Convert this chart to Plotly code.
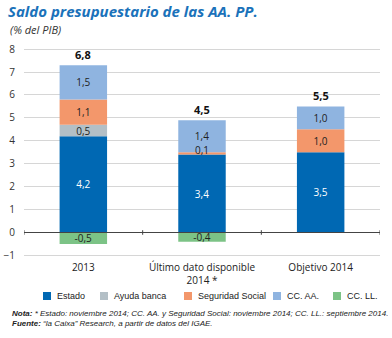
import plotly.graph_objects as go

categories = ["2013", "Último dato disponible<br>2014 *", "Objetivo 2014"]
estado = [4.2, 3.4, 3.5]
ayuda_banca = [0.5, None, None]
seguridad_social = [1.1, 0.1, 1.0]
cc_aa = [1.5, 1.4, 1.0]
cc_ll = [-0.5, -0.4, None]
totals = [6.8, 4.5, 5.5]

series = [
    ("Estado", estado, "#0068b3", "white"),
    ("Ayuda banca", ayuda_banca, "#b3bfc6", "#222222"),
    ("Seguridad Social", seguridad_social, "#f3976b", "#222222"),
    ("CC. AA.", cc_aa, "#8fb4e0", "#222222"),
    ("CC. LL.", cc_ll, "#7cc386", "#222222"),
]

def fmt(v):
    return f"{v:.1f}".replace(".", ",")

fig = go.Figure()
small_labels = []
for name, vals, color, tcolor in series:
    texts = []
    for i, v in enumerate(vals):
        if v is None:
            texts.append("")
        elif abs(v) < 0.3:
            texts.append("")
            small_labels.append((i, v, tcolor))
        else:
            texts.append(fmt(v))
    fig.add_trace(go.Bar(
        x=list(range(len(categories))), y=vals, name=name,
        marker=dict(color=color, line=dict(width=0)),
        width=0.4,
        text=texts, textposition="inside",
        insidetextanchor="middle",
        textfont=dict(color=tcolor, size=10, family="Open Sans"),
        showlegend=False,
    ))

# cumulative positive stacking to place labels / totals
pos_tops = []
for i in range(len(categories)):
    s = 0
    for _, vals, _, _ in series:
        v = vals[i]
        if v is not None and v > 0:
            s += v
    pos_tops.append(s)

# labels of tiny segments (drawn on top)
for i, v, tcolor in small_labels:
    base = 0
    for _, vals, _, _ in series:
        if vals[i] is not None and vals[i] == v:
            break
        if vals[i] is not None and vals[i] > 0:
            base += vals[i]
    fig.add_annotation(x=i, y=base + v / 2, text=fmt(v), showarrow=False,
                       yshift=3, font=dict(size=10, color=tcolor, family="Open Sans"))

for i in range(len(categories)):
    fig.add_annotation(x=i, y=pos_tops[i], text="<b>" + fmt(totals[i]) + "</b>",
                       showarrow=False, yanchor="bottom", yshift=1,
                       font=dict(size=11, color="#111111", family="Open Sans"))

# zero line with boundary ticks
fig.add_shape(type="line", xref="x", yref="y", x0=-0.5, x1=2.5, y0=0, y1=0,
              line=dict(color="#444444", width=1))
for b in [-0.5, 0.5, 1.5, 2.5]:
    fig.add_shape(type="line", xref="x", yref="y", x0=b, x1=b, y0=-0.1, y1=0.1,
                  line=dict(color="#444444", width=1))

# custom legend
legend_x = [43, 100, 184, 273, 333]
for (name, vals, color, tcolor), lx in zip(series, legend_x):
    fig.add_shape(type="rect", xref="paper", yref="paper",
                  x0=(lx - 24) / 356, x1=(lx + 8 - 24) / 356,
                  y0=(260 - 300) / 212, y1=(260 - 292) / 212,
                  line=dict(width=0), fillcolor=color)
    fig.add_annotation(xref="paper", yref="paper", x=(lx + 12 - 24) / 356,
                       y=(260 - 296) / 212, xanchor="left", yanchor="middle",
                       showarrow=False, text=name,
                       font=dict(size=9, color="#222222", family="Liberation Sans"))

fig.update_layout(
    width=392, height=338,
    margin=dict(l=24, r=12, t=48, b=78, autoexpand=False),
    barmode="relative",
    separators=",.",
    paper_bgcolor="white", plot_bgcolor="white",
    uniformtext=dict(minsize=10, mode="show"),
    font=dict(family="Open Sans", size=10, color="#333333"),
    title=dict(text="<b><i>Saldo presupuestario de las AA. PP.</i></b>",
               x=8 / 392, xanchor="left", yref="container", y=1 - 12 / 338, yanchor="middle",
               font=dict(size=15, color="#1a72ba", family="Open Sans")),
    xaxis=dict(range=[-0.5, 2.5], showgrid=False, showline=False, ticks="",
               tickmode="array", tickvals=list(range(len(categories))), ticktext=categories,
               tickfont=dict(size=10, color="#222222")),
    yaxis=dict(range=[-1.2, 8.05], dtick=1, showgrid=True, gridcolor="#d6d6d6",
               zeroline=False, tickfont=dict(size=10, color="#333333"),
               ticklabelstandoff=8),
    showlegend=False,
)

fig.add_annotation(xref="paper", yref="paper", x=(8 - 24) / 356, y=(260 - 30) / 212,
                   xanchor="left", yanchor="middle", showarrow=False,
                   text="<i>(% del PIB)</i>", font=dict(size=11, color="#333333"))
fig.add_annotation(xref="paper", yref="paper", x=(10 - 24) / 356, y=(260 - 307) / 212,
                   xanchor="left", yanchor="top", showarrow=False, align="left",
                   text="<b><i>Nota:</i></b><i> * Estado: noviembre 2014; CC. AA. y Seguridad Social: noviembre 2014; CC. LL.: septiembre 2014.</i><br>"
                        "<b><i>Fuente:</i></b><i> “la Caixa” Research, a partir de datos del IGAE.</i>",
                   font=dict(size=8, color="#222222", family="Liberation Sans"))

fig.write_html("out.html")
